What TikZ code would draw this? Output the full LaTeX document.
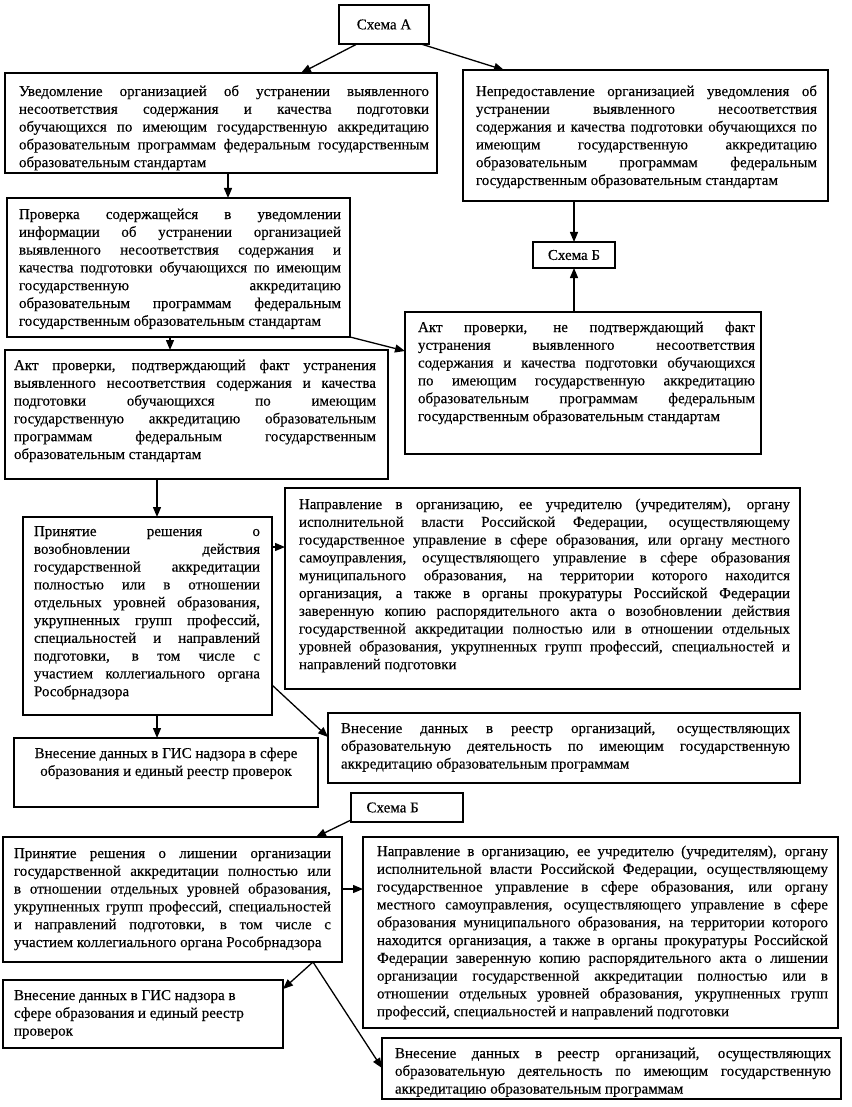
\documentclass[tikz,border=0pt]{standalone}
\usepackage{fontspec}
\setmainfont{Liberation Serif}[FakeBold=0.3]
\usetikzlibrary{arrows.meta}
\newcommand\jl[1]{\hbox to\hsize{\strut #1}}
\newcommand\lastl[1]{\hbox{\strut #1}}
\newcommand\ctrl[1]{\hbox to\hsize{\hfil\strut #1\hfil}}
\tikzset{
  every node/.style={font=\fontsize{15}{17.8}\selectfont},
  boxst/.style={draw, line width=1.7pt, anchor=north west, inner sep=0pt, outer sep=0pt},
  txt/.style={anchor=north west, inner sep=0pt, outer sep=0pt},
  arr/.style={line width=1.3pt, -{Triangle[length=10pt,width=8pt]}},
}
\newcommand\mkbox[5]{\pgfmathsetmacro\bw{#4-#2}\pgfmathsetmacro\bh{#5-#3}%
  \node[boxst, minimum width=\bw pt, minimum height=\bh pt] (#1) at (#2,#3) {};}
\newcommand\mktext[5]{\node[txt] (#1) at ([yshift=12.46pt]#2,#3) {\vtop{\hsize=#4pt #5}};}
\begin{document}
\begin{tikzpicture}[x=1pt,y=-1pt]
\useasboundingbox (0,0) rectangle (851,1107);

% boxes
\mkbox{sA}{339}{5}{429}{44}
\node (sAt) at (sA.center) {Схема А};
\mkbox{b1}{5}{73}{437}{173}
\mkbox{b2}{463}{70}{828}{201}
\mkbox{b3}{7}{198}{350}{337}
\mkbox{sB}{533}{242}{615}{268}
\node (sBt) at (sB.center) {Схема Б};
\mkbox{b4}{405}{312}{761}{454}
\mkbox{b5}{5}{350}{388}{479}
\mkbox{b6}{23}{517}{272}{715}
\mkbox{b7}{285}{488}{800}{689}
\mkbox{r1}{328}{713}{800}{783}
\mkbox{g1}{14}{738}{318}{807}
\mkbox{sC}{351}{793}{463}{822}
\node[anchor=west] (sCt) at ([xshift=12pt]sC.west) {Схема Б};
\mkbox{b9}{3}{837}{342}{962}
\mkbox{b10}{363}{837}{838}{1028}
\mkbox{g2}{3}{980}{283}{1048}
\mkbox{r2}{382}{1038}{841}{1099}

% texts
\mktext{b1t}{19}{96}{410}{%
\jl{Уведомление организацией об устранении выявленного}
\jl{несоответствия содержания и качества подготовки}
\jl{обучающихся по имеющим государственную аккредитацию}
\jl{образовательным программам федеральным государственным}
\lastl{образовательным стандартам}}

\mktext{b2t}{476}{96}{341}{%
\jl{Непредоставление организацией уведомления об}
\jl{устранении выявленного несоответствия}
\jl{содержания и качества подготовки обучающихся по}
\jl{имеющим государственную аккредитацию}
\jl{образовательным программам федеральным}
\lastl{государственным образовательным стандартам}}

\mktext{b3t}{19}{219}{322}{%
\jl{Проверка содержащейся в уведомлении}
\jl{информации об устранении организацией}
\jl{выявленного несоответствия содержания и}
\jl{качества подготовки обучающихся по имеющим}
\jl{государственную аккредитацию}
\jl{образовательным программам федеральным}
\lastl{государственным образовательным стандартам}}

\mktext{b4t}{418}{332}{337}{%
\jl{Акт проверки, не подтверждающий факт}
\jl{устранения выявленного несоответствия}
\jl{содержания и качества подготовки обучающихся}
\jl{по имеющим государственную аккредитацию}
\jl{образовательным программам федеральным}
\lastl{государственным образовательным стандартам}}

\mktext{b5t}{14}{370}{362}{%
\jl{Акт проверки, подтверждающий факт устранения}
\jl{выявленного несоответствия содержания и качества}
\jl{подготовки обучающихся по имеющим}
\jl{государственную аккредитацию образовательным}
\jl{программам федеральным государственным}
\lastl{образовательным стандартам}}

\mktext{b6t}{34}{536}{226}{%
\jl{Принятие решения о}
\jl{возобновлении действия}
\jl{государственной аккредитации}
\jl{полностью или в отношении}
\jl{отдельных уровней образования,}
\jl{укрупненных групп профессий,}
\jl{специальностей и направлений}
\jl{подготовки, в том числе с}
\jl{участием коллегиального органа}
\lastl{Рособрнадзора}}

\mktext{b7t}{299}{509}{491}{%
\jl{Направление в организацию, ее учредителю (учредителям), органу}
\jl{исполнительной власти Российской Федерации, осуществляющему}
\jl{государственное управление в сфере образования, или органу местного}
\jl{самоуправления, осуществляющего управление в сфере образования}
\jl{муниципального образования, на территории которого находится}
\jl{организация, а также в органы прокуратуры Российской Федерации}
\jl{заверенную копию распорядительного акта о возобновлении действия}
\jl{государственной аккредитации полностью или в отношении отдельных}
\jl{уровней образования, укрупненных групп профессий, специальностей и}
\lastl{направлений подготовки}}

\mktext{r1t}{341}{733}{449}{%
\jl{Внесение данных в реестр организаций, осуществляющих}
\jl{образовательную деятельность по имеющим государственную}
\lastl{аккредитацию образовательным программам}}

\mktext{g1t}{24}{758}{284}{%
\ctrl{Внесение данных в ГИС надзора в сфере}
\ctrl{образования и единый реестр проверок}}

\mktext{b9t}{14}{858}{317}{%
\jl{Принятие решения о лишении организации}
\jl{государственной аккредитации полностью или}
\jl{в отношении отдельных уровней образования,}
\jl{укрупненных групп профессий, специальностей}
\jl{и направлений подготовки, в том числе с}
\lastl{участием коллегиального органа Рособрнадзора}}

\mktext{b10t}{377}{856}{451}{%
\jl{Направление в организацию, ее учредителю (учредителям), органу}
\jl{исполнительной власти Российской Федерации, осуществляющему}
\jl{государственное управление в сфере образования, или органу}
\jl{местного самоуправления, осуществляющего управление в сфере}
\jl{образования муниципального образования, на территории которого}
\jl{находится организация, а также в органы прокуратуры Российской}
\jl{Федерации заверенную копию распорядительного акта о лишении}
\jl{организации государственной аккредитации полностью или в}
\jl{отношении отдельных уровней образования, укрупненных групп}
\lastl{профессий, специальностей и направлений подготовки}}

\mktext{g2t}{14}{1000}{260}{%
\lastl{Внесение данных в ГИС надзора в}
\lastl{сфере образования и единый реестр}
\lastl{проверок}}

\mktext{r2t}{395}{1058}{436}{%
\jl{Внесение данных в реестр организаций, осуществляющих}
\jl{образовательную деятельность по имеющим государственную}
\lastl{аккредитацию образовательным программам}}

% connectors
\draw[arr] ([xshift=18pt]sA.south west) -- ([xshift=296pt]b1.north west);
\draw[arr] ([xshift=-8pt]sA.south east) -- ([xshift=41pt]b2.north west);
\draw[arr] ([xshift=223pt]b1.south west) -- ([xshift=221pt]b3.north west);
\draw[arr] ([xshift=111pt]b2.south west) -- (sB.north);
\draw[arr] ([xshift=169pt]b4.north west) -- (sB.south);
\draw[arr] (b3.south east) -- ([yshift=-39pt]b4.north west);
\draw[arr] ([xshift=163pt]b3.south west) -- ([xshift=165pt]b5.north west);
\draw[arr] ([xshift=152pt]b5.south west) -- ([xshift=134pt]b6.north west);
\draw[arr] ([yshift=-30pt]b6.north east) -- ([yshift=-59pt]b7.north west);
\draw[arr] ([yshift=30pt]b6.south east) -- ([yshift=-24pt]r1.north west);
\draw[arr] ([xshift=134pt]b6.south west) -- ([xshift=143pt]g1.north west);
\draw[arr] ([yshift=2pt]sC.south west) -- ([xshift=313pt]b9.north west);
\draw[arr] ([yshift=-52pt]b9.north east) -- ([yshift=-52pt]b10.north west);
\draw[arr] ([xshift=310pt]b9.south west) -- ([yshift=-9pt]g2.north east);
\draw[arr] ([xshift=310pt]b9.south west) -- ([yshift=-30pt]r2.north west);
\end{tikzpicture}
\end{document}
